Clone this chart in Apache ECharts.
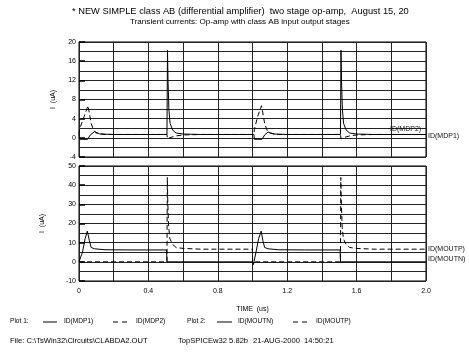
<!DOCTYPE html>
<html>
<head>
<meta charset="utf-8">
<script src="https://cdn.jsdelivr.net/npm/echarts@6/dist/echarts.min.js"></script>
<style>
  html, body { margin: 0; padding: 0; background: #fff; }
  #chart { width: 469px; height: 352px; }
</style>
</head>
<body>
<div id="chart"></div>
<script>
// plot 1: ID(MDP1) solid, ID(MDP2) dashed
var mdp1Time = [0, 0.003, 0.05, 0.065, 0.09, 0.1, 0.12, 0.2, 0.507, 0.51, 0.513, 0.518, 0.525, 0.54, 0.56, 0.6, 0.7,
                1.008, 1.011, 1.055, 1.07, 1.09, 1.1, 1.12, 1.2, 1.507, 1.51, 1.513, 1.518, 1.525, 1.54, 1.56, 1.6, 1.7, 2.0];
var mdp1Val  = [0.7, -0.3, -0.3, 0.6, 1.3, 1.0, 0.8, 0.7, 0.7, 18.3, 12, 6, 3, 1.6, 1.0, 0.8, 0.7,
                0.7, -0.3, -0.3, 0.6, 1.2, 1.0, 0.8, 0.7, 0.7, 18.3, 12, 6, 3, 1.6, 1.0, 0.8, 0.7, 0.7];
var mdp2Time = [0, 0.003, 0.03, 0.052, 0.07, 0.085, 0.1, 0.15, 0.507, 0.51, 0.53, 0.56, 0.6, 0.7,
                1.008, 1.011, 1.03, 1.052, 1.07, 1.085, 1.1, 1.15, 1.507, 1.51, 1.53, 1.56, 1.6, 1.7, 2.0];
var mdp2Val  = [0.7, 1.8, 4.5, 6.7, 3, 1.5, 1.0, 0.7, 0.7, -0.2, 0.1, 0.4, 0.6, 0.7,
                0.7, 1.8, 4.5, 6.7, 3, 1.5, 1.0, 0.7, 0.7, -0.2, 0.1, 0.4, 0.6, 0.7, 0.7];

// plot 2: ID(MOUTN) solid, ID(MOUTP) dashed
var moutnTime = [0, 0.005, 0.02, 0.035, 0.048, 0.06, 0.07, 0.09, 0.15, 0.3, 0.505, 0.507, 1.0,
                 1.005, 1.02, 1.035, 1.05, 1.06, 1.07, 1.09, 1.15, 1.3, 1.505, 1.507, 2.0];
var moutnVal  = [0, -1, 5, 12, 16, 11, 7.5, 6.8, 6.3, 6.2, 6.2, 0, 0,
                 -1.5, 5, 12, 16, 11, 7.5, 6.8, 6.3, 6.2, 6.2, 0, 0];
var moutpTime = [0, 0.507, 0.509, 0.512, 0.517, 0.524, 0.54, 0.56, 0.6, 0.7, 0.999, 1.001,
                 1.507, 1.509, 1.512, 1.517, 1.524, 1.54, 1.56, 1.6, 1.7, 2.0];
var moutpVal  = [0, 0, 44, 30, 18, 12, 9, 7.5, 7, 6.6, 6.6, 0,
                 0, 44, 30, 18, 12, 9, 7.5, 7, 6.6, 6.6];

var topTicks = [-4, 20, 4];
var botTicks = [-10, 50, 10];

function pairs(t, v) {
    var out = [];
    for (var i = 0; i < t.length; i++) out.push([t[i], v[i]]);
    return out;
}

var font = 'Liberation Sans';
var gridLine = { show: true, lineStyle: { color: '#222', width: 1 } };

function xAx(idx, labels) {
    return {
        type: 'value', gridIndex: idx, min: 0, max: 2, interval: 0.4,
        axisLine: { show: false }, axisTick: { show: false },
        axisLabel: {
            show: labels, color: '#000', fontFamily: font, fontSize: 7, margin: 7,
            formatter: function (v) { return v === 0 ? '0' : v.toFixed(1); }
        },
        splitLine: gridLine,
        minorTick: { show: false, splitNumber: 2 },
        minorSplitLine: gridLine,
        name: labels ? 'TIME  (us)' : '', nameLocation: 'middle', nameGap: 25,
        nameTextStyle: { color: '#000', fontFamily: font, fontSize: 7 }
    };
}

function yAx(idx, t, gap) {
    return {
        type: 'value', gridIndex: idx, min: t[0], max: t[1], interval: t[2],
        axisLine: { show: false },
        axisTick: { show: true, inside: true, length: 6, lineStyle: { color: '#000', width: 1.5 } },
        axisLabel: { color: '#000', fontFamily: font, fontSize: 7, margin: 3 },
        splitLine: gridLine,
        minorTick: { show: false, splitNumber: 2 },
        minorSplitLine: gridLine,
        name: 'I  (uA)', nameLocation: 'middle', nameGap: gap,
        nameTextStyle: { color: '#000', fontFamily: font, fontSize: 7 }
    };
}

function curve(name, idx, data, dashed, off) {
    return {
        name: name, type: 'line', xAxisIndex: idx, yAxisIndex: idx,
        data: data, symbol: 'none', animation: false, silent: true,
        lineStyle: { color: '#000', width: 1, type: dashed ? [5, 3] : 'solid' },
        endLabel: {
            show: true, formatter: name, color: '#111', fontFamily: font, fontSize: 7,
            distance: 2, offset: off
        }
    };
}

var legendText = { fontFamily: font, fontSize: 6.6, fill: '#000' };
var fileText = { fontFamily: font, fontSize: 7.6, fill: '#000' };
function txt(x, y, s, st) {
    return { type: 'text', left: x, top: y, style: Object.assign({ text: s }, st) };
}
function seg(x1, x2, y, dash) {
    return { type: 'line', shape: { x1: x1, y1: y, x2: x2, y2: y },
             style: { stroke: '#000', lineWidth: 1, lineDash: dash ? [5, 4] : null } };
}

var chart = echarts.init(document.getElementById('chart'), null, { renderer: 'canvas' });
chart.setOption({
    backgroundColor: '#fff',
    animation: false,
    title: [{
        text: '* NEW SIMPLE class AB (differential amplifier)  two stage op-amp,  August 15, 20',
        left: 72, top: 6, padding: 0,
        textStyle: { color: '#000', fontFamily: font, fontSize: 9.3, fontWeight: 'normal', lineHeight: 11 }
    }, {
        text: 'Transient currents: Op-amp with class AB input output stages',
        left: 130, top: 17, padding: 0,
        textStyle: { color: '#000', fontFamily: font, fontSize: 8.1, fontWeight: 'normal', lineHeight: 9 }
    }],
    grid: [
        { left: 79, width: 347, top: 42, height: 115, show: true, borderColor: '#000', borderWidth: 1, backgroundColor: 'transparent' },
        { left: 79, width: 347, top: 166, height: 115, show: true, borderColor: '#000', borderWidth: 1, backgroundColor: 'transparent' }
    ],
    xAxis: [xAx(0, false), xAx(1, true)],
    yAxis: [yAx(0, topTicks, 22), yAx(1, botTicks, 33)],
    series: [
        curve('ID(MDP1)', 0, pairs(mdp1Time, mdp1Val), false, [0, 2]),
        curve('ID(MDP2)', 0, pairs(mdp2Time, mdp2Val), true, [-38, -5]),
        curve('ID(MOUTN)', 1, pairs(moutnTime, moutnVal), false, [0, -3]),
        curve('ID(MOUTP)', 1, pairs(moutpTime, moutpVal), true, [0, 0])
    ],
    graphic: [
        txt(10, 318, 'Plot 1:', legendText),
        seg(43, 57, 322, false),
        txt(64, 318, 'ID(MDP1)', legendText),
        seg(113, 127, 322, true),
        txt(136, 318, 'ID(MDP2)', legendText),
        txt(187, 318, 'Plot 2:', legendText),
        seg(217, 232, 322, false),
        txt(238, 318, 'ID(MOUTN)', legendText),
        seg(293, 308, 322, true),
        txt(316, 318, 'ID(MOUTP)', legendText),
        txt(10, 337, 'File: C:\\TsWin32\\Circuits\\CLABDA2.OUT', fileText),
        txt(178, 337, 'TopSPICEw32 5.82b', fileText),
        txt(253, 337, '21-AUG-2000  14:50:21', fileText)
    ]
});
</script>
</body>
</html>
